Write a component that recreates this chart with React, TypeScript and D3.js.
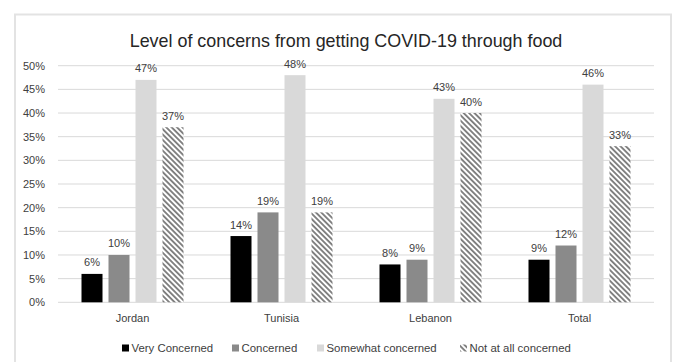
import React from "react";
import * as d3 from "d3";

const categories = ["Jordan", "Tunisia", "Lebanon", "Total"];
const seriesNames = ["Very Concerned", "Concerned", "Somewhat concerned", "Not at all concerned"];
const veryConcerned = [6, 14, 8, 9];
const concerned = [10, 19, 9, 12];
const somewhatConcerned = [47, 48, 43, 46];
const notAtAllConcerned = [37, 19, 40, 33];
const yTicks = [0, 5, 10, 15, 20, 25, 30, 35, 40, 45, 50];
const title = "Level of concerns from getting COVID-19 through food";

const seriesValues = [veryConcerned, concerned, somewhatConcerned, notAtAllConcerned];
const seriesFills = ["#000000", "#8a8a8a", "#d9d9d9", "url(#hatch)"];

const W = 676;
const H = 362;
const font = "'Liberation Sans', Arial, sans-serif";

export default function App() {
  const plotLeft = 58;
  const plotRight = 654;
  const plotTop = 65.7;
  const plotBottom = 302.3;

  const x0 = d3.scaleBand<string>().domain(categories).range([plotLeft, plotRight]).paddingInner(0).paddingOuter(0);
  const y = d3.scaleLinear().domain([0, 50]).range([plotBottom, plotTop]);

  const barW = 21;
  const gap = 6;
  const groupW = seriesNames.length * barW + (seriesNames.length - 1) * gap;

  // legend swatch positions
  const legendX = [122, 232, 317, 460];

  return (
    <svg
      width={W}
      height={H}
      style={{ position: "absolute", left: 0, top: 0, background: "#fff" }}
      fontFamily={font}
    >
      <defs>
        <pattern id="hatch" patternUnits="userSpaceOnUse" width={3.8} height={3.8} patternTransform="rotate(-45)">
          <rect x={0} y={0} width={3.8} height={3.8} fill="#ffffff" />
          <rect x={0} y={0} width={1.9} height={3.8} fill="#808080" />
        </pattern>
      </defs>
      <rect x={0} y={0} width={W} height={H} fill="#fff" />
      {/* chart frame */}
      <rect x={15} y={14.5} width={656} height={H + 10} fill="none" stroke="#e3e3e3" strokeWidth={2} />

      <text x={346} y={47} textAnchor="middle" fontSize={17.9} fill="#262626">
        {title}
      </text>

      {/* gridlines and y labels */}
      {yTicks.map((t) => (
        <g key={t}>
          <line x1={plotLeft} x2={plotRight} y1={y(t)} y2={y(t)} stroke="#d9d9d9" strokeWidth={1} />
          <text x={45} y={y(t) + 4} textAnchor="end" fontSize={11} fill="#404040">
            {t}%
          </text>
        </g>
      ))}

      {/* bars */}
      {categories.map((c, ci) => {
        const cx = (x0(c) as number) + x0.bandwidth() / 2;
        const start = cx - groupW / 2;
        return (
          <g key={c}>
            {seriesValues.map((vals, si) => {
              const v = vals[ci];
              const bx = start + si * (barW + gap);
              return (
                <g key={si}>
                  <rect x={bx} y={y(v)} width={barW} height={y(0) - y(v)} fill={seriesFills[si]} />
                  <text x={bx + barW / 2} y={y(v) - 7.5} textAnchor="middle" fontSize={11} fill="#404040">
                    {v}%
                  </text>
                </g>
              );
            })}
            <text x={cx} y={322} textAnchor="middle" fontSize={11} fill="#404040">
              {c}
            </text>
          </g>
        );
      })}

      {/* legend */}
      {seriesNames.map((name, i) => (
        <g key={name}>
          <rect x={legendX[i]} y={344.5} width={7} height={7} fill={seriesFills[i]} />
          <text x={legendX[i] + 9.5} y={352} fontSize={11.4} fill="#404040">
            {name}
          </text>
        </g>
      ))}
    </svg>
  );
}
